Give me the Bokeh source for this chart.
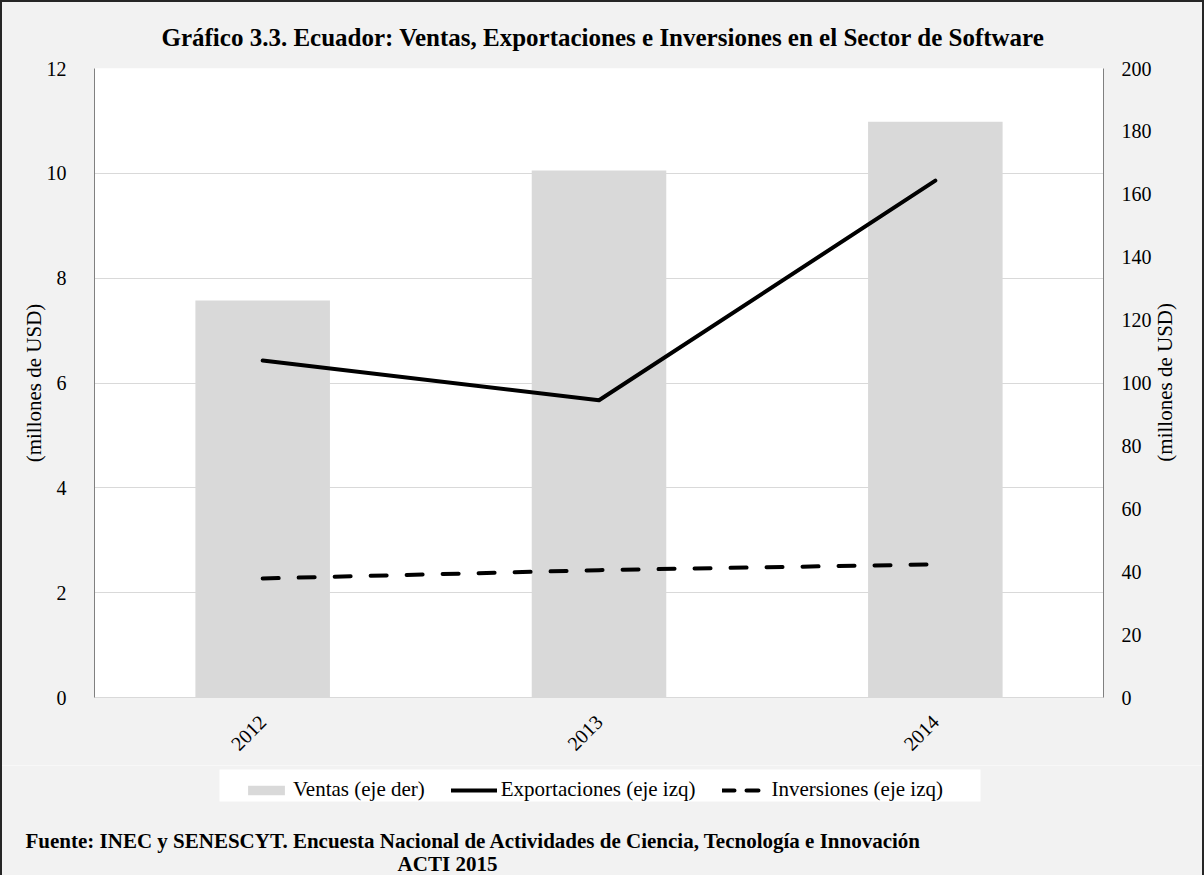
from math import pi
from bokeh.plotting import figure
from bokeh.layouts import column
from bokeh.models import (Range1d, LinearAxis, FactorRange, Legend, LegendItem,
                          Label, BoxAnnotation, FixedTicker, InlineStyleSheet)
from bokeh.embed import file_html
from bokeh.resources import INLINE

years = ["2012", "2013", "2014"]
ventas = [126.2, 167.6, 183.1]          # right axis
exportaciones = [6.43, 5.67, 9.86]      # left axis
inversiones = [2.27, 2.43, 2.54]        # left axis
left_ticks = [0, 2, 4, 6, 8, 10, 12]
right_ticks = [0, 20, 40, 60, 80, 100, 120, 140, 160, 180, 200]

title_text = "Gráfico 3.3. Ecuador: Ventas, Exportaciones e Inversiones en el Sector de Software"
source_text = "Fuente: INEC y SENESCYT. Encuesta Nacional de Actividades de Ciencia, Tecnología e Innovación"
source_text2 = "ACTI 2015"
ylabel = "(millones de USD)"
legend_labels = ["Ventas (eje der)", "Exportaciones (eje izq)", "Inversiones (eje izq)"]

FONT = "Liberation Serif"
BG = "#f2f2f2"

# ---------------- main chart ----------------
p = figure(width=1204, height=765, x_range=FactorRange(*years, range_padding=0),
           y_range=Range1d(0, 12), output_backend="svg", toolbar_location=None,
           min_border_left=94, min_border_right=101, min_border_top=68,
           min_border_bottom=68)
p.frame_align = False
p.border_fill_color = BG
p.background_fill_color = "white"
p.outline_line_color = None
p.extra_y_ranges = {"right": Range1d(0, 200)}

p.title.text = title_text
p.title.align = "left"
p.title.offset = 67
p.title.text_font = FONT
p.title.text_font_size = "25px"
p.title.text_font_style = "bold"
p.title.text_color = "black"
p.title.standoff = 36

p.yaxis.ticker = FixedTicker(ticks=left_ticks)
ra = LinearAxis(y_range_name="right", ticker=FixedTicker(ticks=right_ticks))
p.add_layout(ra, "right")
for ax in [p.yaxis[0], ra]:
    ax.major_tick_out = 0
    ax.major_tick_in = 0
    ax.minor_tick_out = 0
    ax.minor_tick_in = 0
    ax.axis_line_color = "#808080"
    ax.axis_line_width = 1
    ax.major_label_text_font = FONT
    ax.major_label_text_font_size = "20px"
    ax.major_label_text_color = "black"
p.yaxis[0].major_label_standoff = 28
p.yaxis[0].axis_label = ylabel
p.yaxis[0].axis_label_standoff = -2
p.yaxis[0].axis_label_text_font = FONT
p.yaxis[0].axis_label_text_font_size = "21px"
p.yaxis[0].axis_label_text_font_style = "normal"
p.yaxis[0].axis_label_text_color = "black"
ra.major_label_standoff = 18

# right-hand axis title, read bottom-to-top like the left one
label_tick = 75
ra2 = LinearAxis(y_range_name="right", ticker=FixedTicker(ticks=[label_tick]),
                 major_label_overrides={label_tick: ylabel},
                 major_label_orientation=pi / 2, major_label_standoff=10,
                 major_label_text_font=FONT, major_label_text_font_size="21px",
                 major_label_text_color="black", axis_line_color=None,
                 major_tick_out=0, major_tick_in=0, minor_tick_out=0, minor_tick_in=0)
p.add_layout(ra2, "right")

xa = p.xaxis[0]
xa.major_tick_out = 0
xa.major_tick_in = 0
xa.axis_line_color = "#d9d9d9"
xa.major_label_orientation = pi / 4
xa.major_label_text_font = FONT
xa.major_label_text_font_size = "20px"
xa.major_label_text_color = "black"
xa.major_label_standoff = 21

p.xgrid.grid_line_color = None
p.ygrid.grid_line_color = "#d9d9d9"
p.ygrid.grid_line_width = 1

bars = p.vbar(x=years, top=ventas, width=0.4, y_range_name="right",
              fill_color="#d9d9d9", line_color=None)
l1 = p.line(years, exportaciones, line_width=4, line_color="black",
            line_cap="round", line_join="round")
l2 = p.line(years, inversiones, line_width=4, line_color="black",
            line_dash="16 20", line_cap="round")

# ---------------- legend + source strip ----------------
f2 = figure(width=1204, height=110, x_range=Range1d(0, 1204), y_range=Range1d(0, 110),
            output_backend="svg", toolbar_location=None, title=None,
            x_axis_location=None, y_axis_location=None, min_border=0)
f2.frame_align = False
f2.border_fill_color = BG
f2.background_fill_color = BG
f2.outline_line_color = None
f2.grid.visible = False
# legend proxies: same series, mapped onto a y range that keeps them off-canvas
f2.extra_y_ranges = {"hide": Range1d(1000, 1001)}
idx = list(range(len(years)))

f2.add_layout(BoxAnnotation(left=219, right=980, bottom=74, top=106,
                            fill_color="white", fill_alpha=1, line_color=None))

pb = f2.vbar(x=idx, top=ventas, width=0.4, y_range_name="hide",
             fill_color="#d9d9d9", line_color=None)
pl1 = f2.line(idx, exportaciones, y_range_name="hide",
              line_width=4, line_color="black", line_cap="round")
pl2 = f2.line(idx, inversiones, y_range_name="hide",
              line_width=4, line_color="black", line_dash="12 12", line_cap="round")

legend = Legend(items=[LegendItem(label=legend_labels[0], renderers=[pb]),
                       LegendItem(label=legend_labels[1], renderers=[pl1]),
                       LegendItem(label=legend_labels[2], renderers=[pl2])],
                location=(243, 73), orientation="horizontal",
                background_fill_alpha=0, border_line_color=None,
                padding=6, margin=0, spacing=26, glyph_width=46,
                glyph_height=12, label_height=20, label_standoff=4,
                label_text_font=FONT, label_text_font_size="21px",
                label_text_color="black")
f2.add_layout(legend)

f2.add_layout(Label(x=25, y=35, text=source_text, text_align="left",
                    text_baseline="middle", text_font=FONT, text_font_size="21px",
                    text_font_style="bold", text_color="black"))
f2.add_layout(Label(x=447, y=12, text=source_text2, text_align="center",
                    text_baseline="middle", text_font=FONT, text_font_size="21px",
                    text_font_style="bold", text_color="black"))

frame_css = InlineStyleSheet(css="""
:host { position: relative; }
:host::after { content: ""; position: absolute; left: 0; top: 0; right: 0; bottom: -4px;
  border: 2px solid #262626; pointer-events: none; z-index: 1000; }
""")
layout = column(p, f2, spacing=0, stylesheets=[frame_css])

open("out.html", "w").write(file_html(layout, INLINE))
